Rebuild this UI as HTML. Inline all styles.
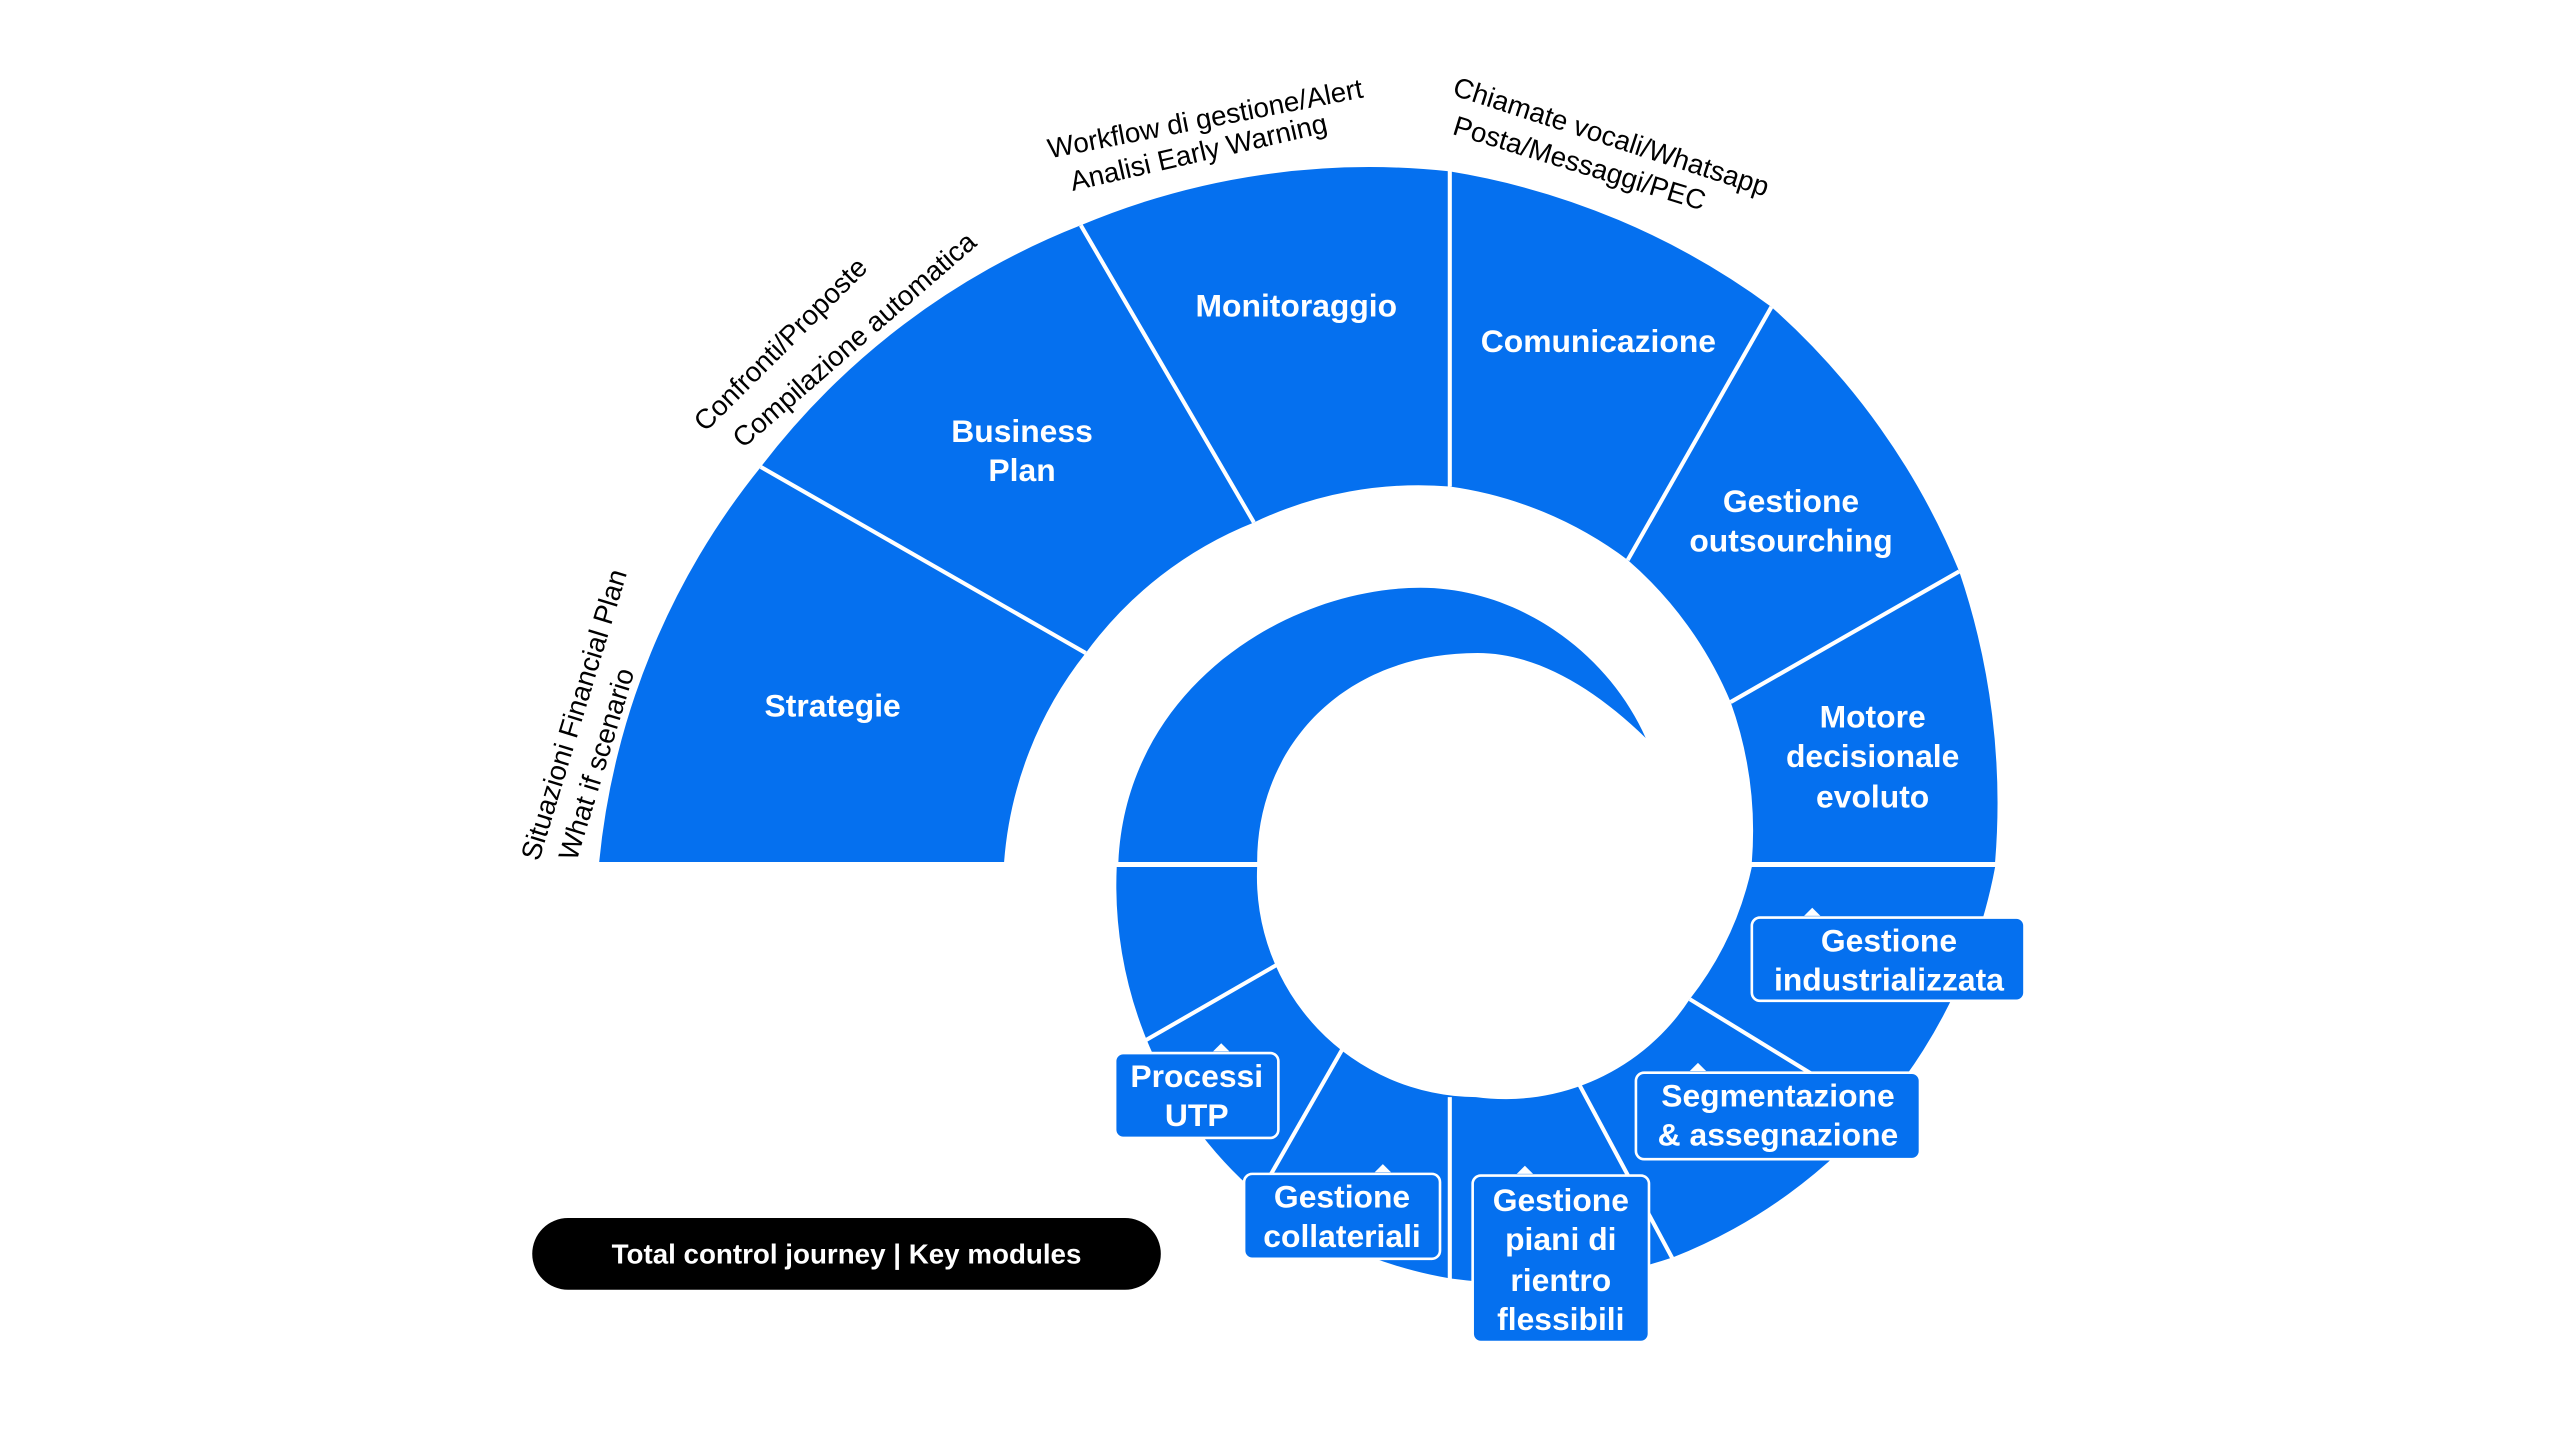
<!DOCTYPE html>
<html><head><meta charset="utf-8"><style>
html,body{margin:0;padding:0;background:#fff;}
svg{display:block;}
text{font-family:"Liberation Sans",sans-serif;}
.w{fill:#fff;font-weight:bold;font-size:19.5px;text-anchor:middle;dominant-baseline:central;}
.o{fill:#000;font-size:17px;}
</style></head><body>
<svg width="2560" height="1440" viewBox="0 0 1568 882" xmlns="http://www.w3.org/2000/svg">
<g fill="#0570EF">
<path d="M367,528 A455,455 0 0 1 466,286 A455,455 0 0 1 662,138 A455,455 0 0 1 888,105 A455,455 0 0 1 1085,188 A440,440 0 0 1 1200,350 A440,440 0 0 1 1222,528 L1073,528 A235,235 0 0 0 1060,430 A235,235 0 0 0 997,343 A235,235 0 0 0 888,298 A235,235 0 0 0 768,320 A235,235 0 0 0 665,400 A235,235 0 0 0 615,528 Z"/>
<path d="M684,531 L770,531 A135,135 0 0 0 904,672 A135,135 0 0 0 1035,612 A200,200 0 0 0 1073,531 L1222,531 A320,320 0 0 1 1025,770 A300,300 0 0 1 888,783 A260,260 0 0 1 760,722 A250,250 0 0 1 684,531 Z"/>
<path d="M685,528 C690,420 790,360 870,360 C930,360 985,400 1008,452 C975,420 940,400 905,400 C820,400 770,460 770,528 Z"/>
</g>
<g stroke="#fff" stroke-width="2.5">
<line x1="466" y1="286" x2="665" y2="400"/>
<line x1="662" y1="138" x2="768" y2="320"/>
<line x1="888" y1="100" x2="888" y2="298"/>
<line x1="1085" y1="188" x2="997" y2="343"/>
<line x1="1200" y1="350" x2="1060" y2="430"/>
<line x1="782" y1="591" x2="702" y2="637"/>
<line x1="822" y1="643" x2="778" y2="720"/>
<line x1="888" y1="672" x2="888" y2="785"/>
<line x1="965" y1="660" x2="1025" y2="772"/>
<line x1="1035" y1="612" x2="1110" y2="658"/>
</g>
<g fill="#0570EF" stroke="#fff" stroke-width="1.6">
<rect x="1073" y="562" width="167" height="51" rx="5"/>
<rect x="1002" y="657" width="174" height="53" rx="5"/>
<rect x="902" y="720" width="108" height="102" rx="5"/>
<rect x="762" y="719" width="120" height="52" rx="5"/>
<rect x="683" y="645" width="100" height="52" rx="5"/>
</g>
<g fill="#fff">
<path d="M1105,561 L1110,556 L1115,561Z"/>
<path d="M1035,656 L1040,651 L1045,656Z"/>
<path d="M929,719 L934,714 L939,719Z"/>
<path d="M842,718 L847,713 L852,718Z"/>
<path d="M743,644 L748,639 L753,644Z"/>
</g>
<g class="w">
<text x="510" y="432">Strategie</text>
<text x="626" y="264">Business</text><text x="626" y="288">Plan</text>
<text x="794" y="187">Monitoraggio</text>
<text x="979" y="209">Comunicazione</text>
<text x="1097" y="307">Gestione</text><text x="1097" y="331">outsourching</text>
<text x="1147" y="439">Motore</text><text x="1147" y="463">decisionale</text><text x="1147" y="488">evoluto</text>
<text x="1157" y="576">Gestione</text><text x="1157" y="600">industrializzata</text>
<text x="1089" y="671">Segmentazione</text><text x="1089" y="695">&amp; assegnazione</text>
<text x="956" y="735">Gestione</text><text x="956" y="759">piani di</text><text x="956" y="784">rientro</text><text x="956" y="808">flessibili</text>
<text x="822" y="733">Gestione</text><text x="822" y="757">collateriali</text>
<text x="733" y="659">Processi</text><text x="733" y="683">UTP</text>
</g>
<rect x="326" y="746" width="385" height="44" rx="22" fill="#000"/>
<text x="518.5" y="768" fill="#fff" font-size="17" font-weight="bold" text-anchor="middle" dominant-baseline="central">Total control journey | Key modules</text>
<g class="o">
<text transform="translate(330,528) rotate(-73)">Situazioni Financial Plan</text>
<text transform="translate(353,528) rotate(-73)">What if scenario</text>
<text transform="translate(432,265) rotate(-45)">Confronti/Proposte</text>
<text transform="translate(455,275) rotate(-41)">Compilazione automatica</text>
<text transform="translate(643,97) rotate(-11)">Workflow di gestione/Alert</text>
<text transform="translate(657,117) rotate(-13)">Analisi Early Warning</text>
<text transform="translate(889,58) rotate(18)">Chiamate vocali/Whatsapp</text>
<text transform="translate(889,82) rotate(17)">Posta/Messaggi/PEC</text>
</g>
</svg>
</body></html>
